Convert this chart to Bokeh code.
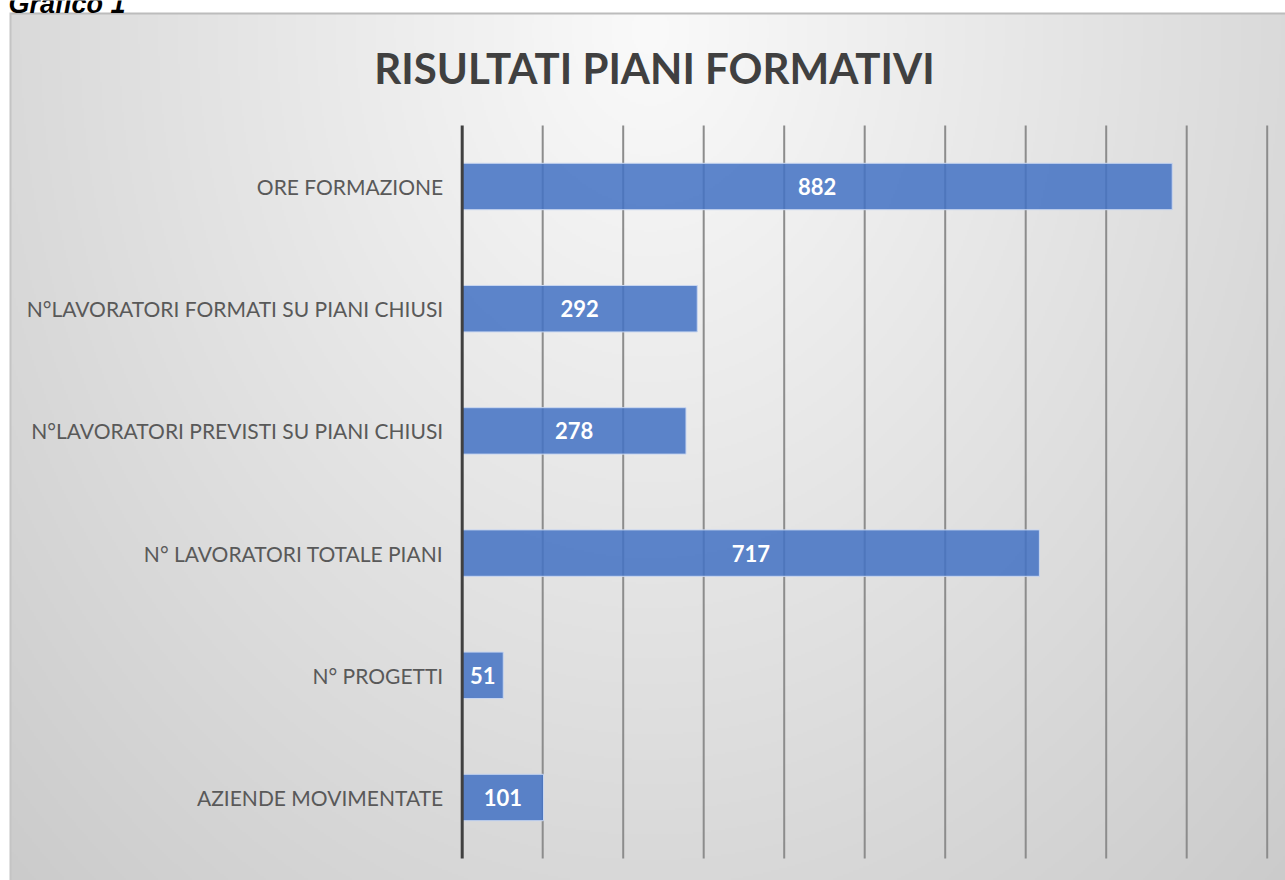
import numpy as np
from bokeh.plotting import figure
from bokeh.models import Range1d, ColumnDataSource, Label
from bokeh.core.properties import value
from bokeh.embed import file_html
from bokeh.resources import INLINE

# ---- data ----
categories = [
    "AZIENDE MOVIMENTATE",
    "N° PROGETTI",
    "N° LAVORATORI TOTALE PIANI",
    "N°LAVORATORI PREVISTI SU PIANI CHIUSI",
    "N°LAVORATORI FORMATI SU PIANI CHIUSI",
    "ORE FORMAZIONE",
]
values = [101, 51, 717, 278, 292, 882]
x_ticks = list(range(0, 1001, 100))
title_text = "RISULTATI PIANI FORMATIVI"
caption_text = "Grafico 1"

# ---- layout helpers (picture pixel -> data) ----
W, H = 1285, 880
X0_PX, PX_PER_UNIT = 461.7, 0.805
YTOP_PX, BAND_PX = 186.0, 122.2
N = len(categories)


def dx(px):
    return (px - X0_PX) / PX_PER_UNIT


def dy(py):
    return (N - 1) - (py - YTOP_PX) / BAND_PX


p = figure(width=W, height=H, output_backend="svg", toolbar_location=None,
           x_range=Range1d(dx(0), dx(W)), y_range=Range1d(dy(H), dy(0)),
           x_axis_type=None, y_axis_type=None, min_border=0,
           outline_line_color=None, background_fill_color="white",
           border_fill_color="white")

# ---- gradient panel background ----
px0, px1, py0, py1 = 9, W, 12, H
step = 2
gw, gh = (px1 - px0) // step, (py1 - py0) // step
xs = px0 + step * np.arange(gw) + step / 2
ys = py0 + step * np.arange(gh) + step / 2
XX, YY = np.meshgrid(xs, ys)
d = np.sqrt(((XX - 650) / 650.0) ** 2 + ((YY - 30) / 830.0) ** 2)
g = np.clip(250 - 33 * d, 195, 252)
g[0, :] = 188
g[:, 0] = 196
rgba = np.zeros((gh, gw, 4), dtype=np.uint8)
rgba[..., 0] = g
rgba[..., 1] = g
rgba[..., 2] = g
rgba[..., 3] = 255
img = rgba[::-1].copy().view(dtype=np.uint32).reshape((gh, gw))
p.image_rgba(image=[img], x=dx(px0), y=dy(py0 + gh * step), dw=dx(px0 + gw * step) - dx(px0),
             dh=dy(py0) - dy(py0 + gh * step))

# ---- grid lines ----
y_lo, y_hi = -0.5, N - 0.5
grid_x = [t for t in x_ticks if t != 0]
p.segment(x0=grid_x, x1=grid_x, y0=[y_lo] * len(grid_x), y1=[y_hi] * len(grid_x),
          line_color="#8c8c8c", line_width=2)

# ---- bars ----
idx = list(range(N))
src = ColumnDataSource(dict(y=idx, v=values, mid=[v / 2 for v in values],
                            lab=[str(v) for v in values], cat=categories,
                            zero=[0] * N))
p.hbar(y="y", left=0, right="v", height=0.38, source=src,
       fill_color="#4472C4", fill_alpha=0.86, line_color="#c8d6f0", line_width=1)

# axis line at zero
p.segment(x0=[0], x1=[0], y0=[y_lo], y1=[y_hi], line_color="#404040", line_width=3)

# value labels
p.text(x="mid", y="y", text="lab", source=src, text_align="center",
       text_baseline="middle", text_color="white", text_font=value("Lato"),
       text_font_style="bold", text_font_size="22px")

# category labels
p.text(x="zero", y="y", text="cat", source=src, x_offset=-19, text_align="right",
       text_baseline="middle", text_color="#595959", text_font=value("Lato"),
       text_font_size="21px")

# title
p.add_layout(Label(x=dx(654), y=dy(67), text=title_text, text_align="center",
                   text_baseline="middle", text_color="#404040", text_font="Lato",
                   text_font_style="bold", text_font_size="42px"))

# caption (cut at the top edge, as in the source)
p.add_layout(Label(x=dx(8), y=dy(3), text=caption_text, text_align="left",
                   text_baseline="alphabetic", text_color="#000000", text_font="Arial",
                   text_font_style="bold italic", text_font_size="27px"))

open("out.html", "w").write(file_html(p, INLINE))
